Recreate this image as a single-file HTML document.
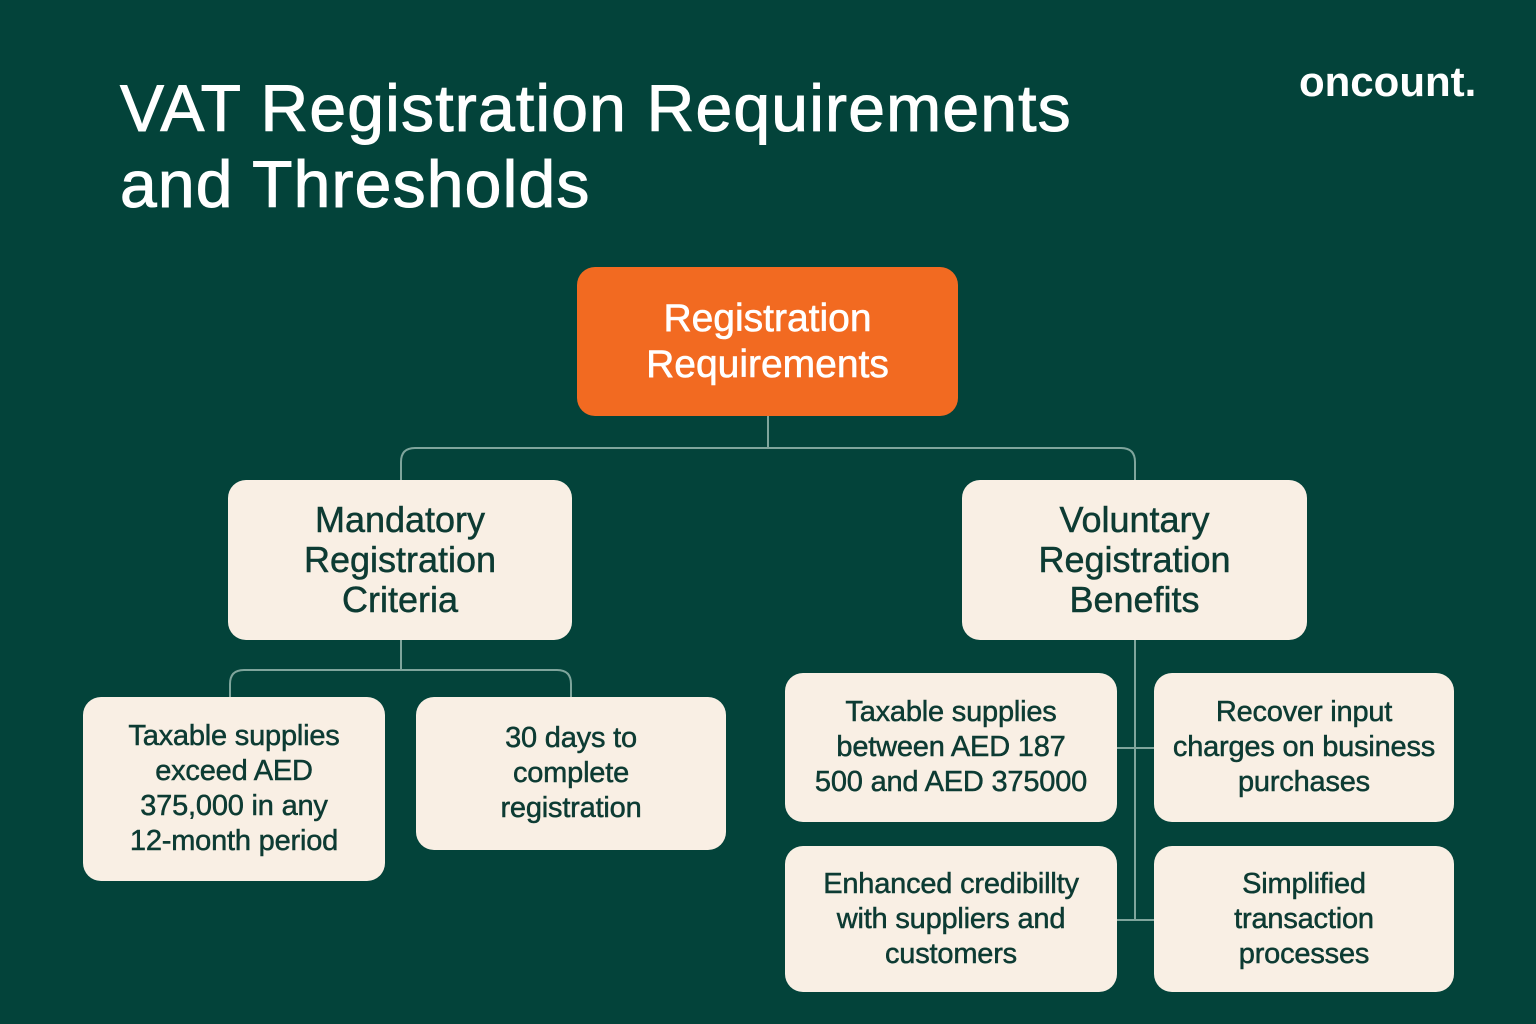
<!DOCTYPE html>
<html><head><meta charset="utf-8"><style>
html,body{margin:0;padding:0}
body{width:1536px;height:1024px;background:#03433a;position:relative;overflow:hidden;font-family:"Liberation Sans",sans-serif}
.t{position:absolute;color:#fff;font-size:66px;left:120px;line-height:76px;letter-spacing:1.2px;-webkit-text-stroke:1px #fff}
.logo{position:absolute;left:1299px;top:58px;color:#fff;font-size:42px;font-weight:bold;letter-spacing:0px}
.b{position:absolute;background:#f9efe4;border-radius:18px;display:flex;align-items:center;justify-content:center;text-align:center;color:#0d3b33;box-sizing:border-box;-webkit-text-stroke:0.5px #0d3b33}
.or{background:#f26a21;color:#fff;font-size:39px;line-height:46px;-webkit-text-stroke:0.6px #fff}
.m{font-size:36px;line-height:40px}
.s{font-size:29px;line-height:35px;letter-spacing:-0.2px}
svg{position:absolute;left:0;top:0}
</style></head><body>
<div class="t" style="top:70px">VAT Registration Requirements</div>
<div class="t" style="top:146px">and Thresholds</div>
<div class="logo">oncount.</div>
<svg width="1536" height="1024" fill="none" stroke="#7fa59c" stroke-width="2">
<path d="M768 416V448M401 480V462Q401 448 415 448H1121Q1135 448 1135 462V480"/>
<path d="M401 640V670M230 697V684Q230 670 244 670H557Q571 670 571 684V697"/>
<path d="M1135 640V920M1117 748H1154M1117 920H1154"/>
</svg>
<div class="b or" style="left:577px;top:267px;width:381px;height:149px">Registration<br>Requirements</div>
<div class="b m" style="left:228px;top:480px;width:344px;height:160px">Mandatory<br>Registration<br>Criteria</div>
<div class="b m" style="left:962px;top:480px;width:345px;height:160px">Voluntary<br>Registration<br>Benefits</div>
<div class="b s" style="left:83px;top:697px;width:302px;height:184px">Taxable supplies<br>exceed AED<br>375,000 in any<br>12-month period</div>
<div class="b s" style="left:416px;top:697px;width:310px;height:153px">30 days to<br>complete<br>registration</div>
<div class="b s" style="left:785px;top:673px;width:332px;height:149px">Taxable supplies<br>between AED 187<br>500 and AED 375000</div>
<div class="b s" style="left:1154px;top:673px;width:300px;height:149px">Recover input<br>charges on business<br>purchases</div>
<div class="b s" style="left:785px;top:846px;width:332px;height:146px">Enhanced credibillty<br>with suppliers and<br>customers</div>
<div class="b s" style="left:1154px;top:846px;width:300px;height:146px">Simplified<br>transaction<br>processes</div>
</body></html>
